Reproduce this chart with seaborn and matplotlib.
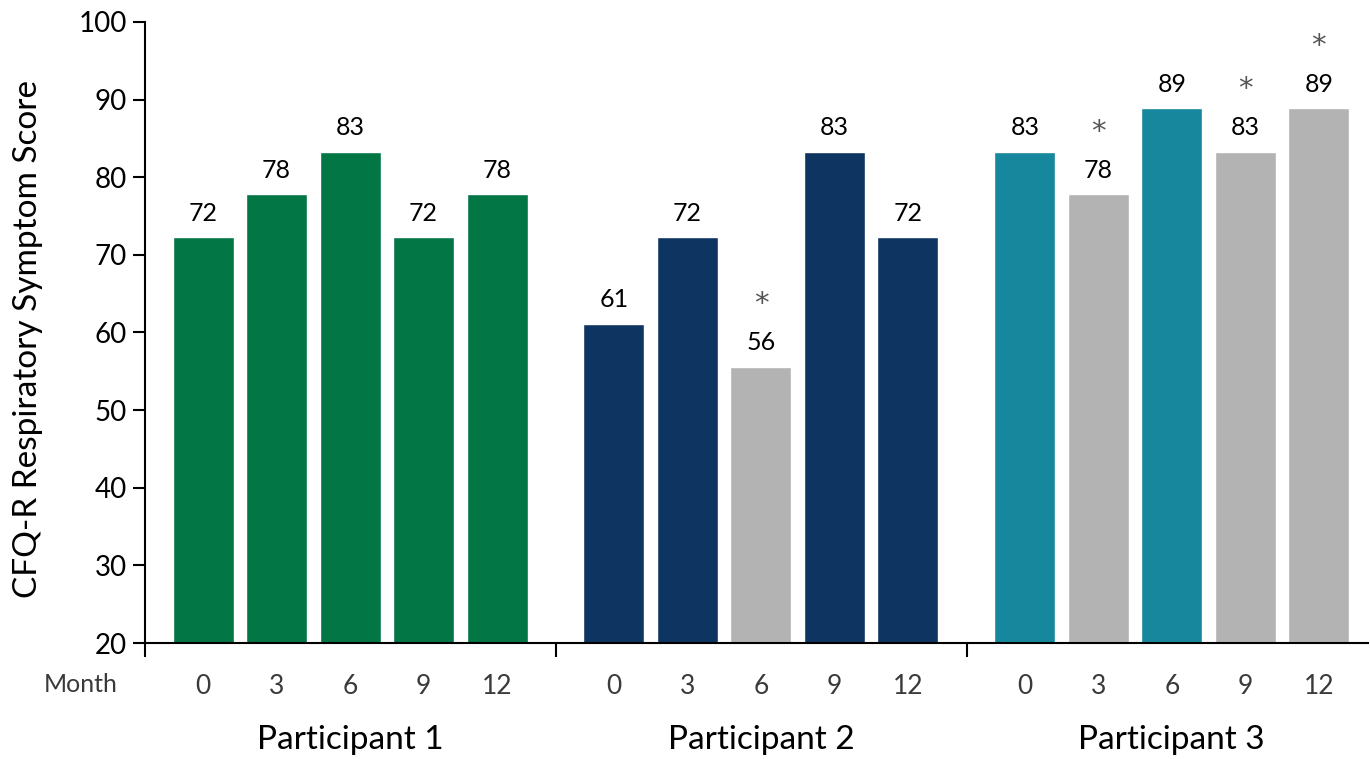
import numpy as np
import pandas as pd
import matplotlib
matplotlib.use("Agg")
import matplotlib.pyplot as plt
import seaborn as sns

groups = ["Participant 1", "Participant 2", "Participant 3"]
months = ["0", "3", "6", "9", "12"]
p1 = [72.3, 77.8, 83.3, 72.3, 77.8]
p2 = [61.1, 72.3, 55.6, 83.3, 72.3]
p3 = [83.3, 77.8, 88.9, 83.3, 88.9]
flag1 = [False, False, False, False, False]
flag2 = [False, False, True, False, False]
flag3 = [False, True, False, True, True]

group_colors = {"Participant 1": "#037645", "Participant 2": "#0E3561",
                "Participant 3": "#17879D", "flag": "#B3B3B3"}

sns.set_theme(style="white")
plt.rcParams['font.family'] = ['Lato', 'DejaVu Sans']

GROUP_W = 5.59
OFFSET = 0.79
rows = []
for g, (name, vals, flags) in enumerate(zip(groups, [p1, p2, p3], [flag1, flag2, flag3])):
    for i, (m, v, f) in enumerate(zip(months, vals, flags)):
        rows.append(dict(group=name, month=m, score=v, flag=f,
                         pos=g * GROUP_W + OFFSET + i,
                         key="flag" if f else name))
df = pd.DataFrame(rows)

fig = plt.figure(figsize=(13.7, 7.59), dpi=100)
ax = fig.add_axes([145 / 1370, 1 - 643 / 759, (1368 - 145) / 1370, (643 - 22) / 759])

sns.barplot(data=df, x="pos", y="score", hue="key", palette=group_colors,
            dodge=False, native_scale=True, width=0.83, legend=False,
            saturation=1, ax=ax)

ax.set_ylim(20, 100)
ax.set_xlim(0, (1368 - 145) / 73.5)
ax.set_yticks(np.arange(20, 101, 10))
ax.tick_params(axis="y", which="major", direction="out", length=9, width=1.5,
               color="black", labelsize=20, labelcolor="black", pad=4, left=True)
ax.set_xticks(df["pos"].values)
ax.set_xticklabels(df["month"].values, fontsize=19, color="#3a3a3a")
ax.tick_params(axis="x", which="major", length=0, pad=22)
ax.set_xticks([0, GROUP_W, 2 * GROUP_W], minor=True)
ax.tick_params(axis="x", which="minor", direction="out", length=10, width=1.5,
               color="black", bottom=True)
for s in ["top", "right"]:
    ax.spines[s].set_visible(False)
for s in ["left", "bottom"]:
    ax.spines[s].set_color("black")
    ax.spines[s].set_linewidth(1.5)

ax.set_xlabel("")
ax.set_ylabel("CFQ-R Respiratory Symptom Score", fontsize=24, color="black")
ax.yaxis.set_label_coords(-0.083, 0.49)

for _, r in df.iterrows():
    ax.annotate(f"{r.score:.0f}", (r.pos, r.score), xytext=(0, 9),
                textcoords="offset points", ha="center", va="bottom",
                fontsize=18, color="black")
    if r.flag:
        ax.annotate("*", (r.pos, r.score), xytext=(0, 35),
                    textcoords="offset points", ha="center", va="bottom",
                    fontsize=21, color="#555555",
                    family=["DejaVu Sans"])

for g, name in enumerate(groups):
    x = g * GROUP_W + OFFSET + 2
    ax.annotate(name, (x, 0), xycoords=("data", "axes fraction"),
                xytext=(0, -97), textcoords="offset pixels",
                ha="center", va="center", fontsize=24, color="black")

ax.annotate("Month", (0, 0), xycoords="axes fraction", xytext=(-64, -41),
            textcoords="offset pixels", ha="center", va="center",
            fontsize=18, color="#3a3a3a")

fig.savefig("out.png", dpi=100)
